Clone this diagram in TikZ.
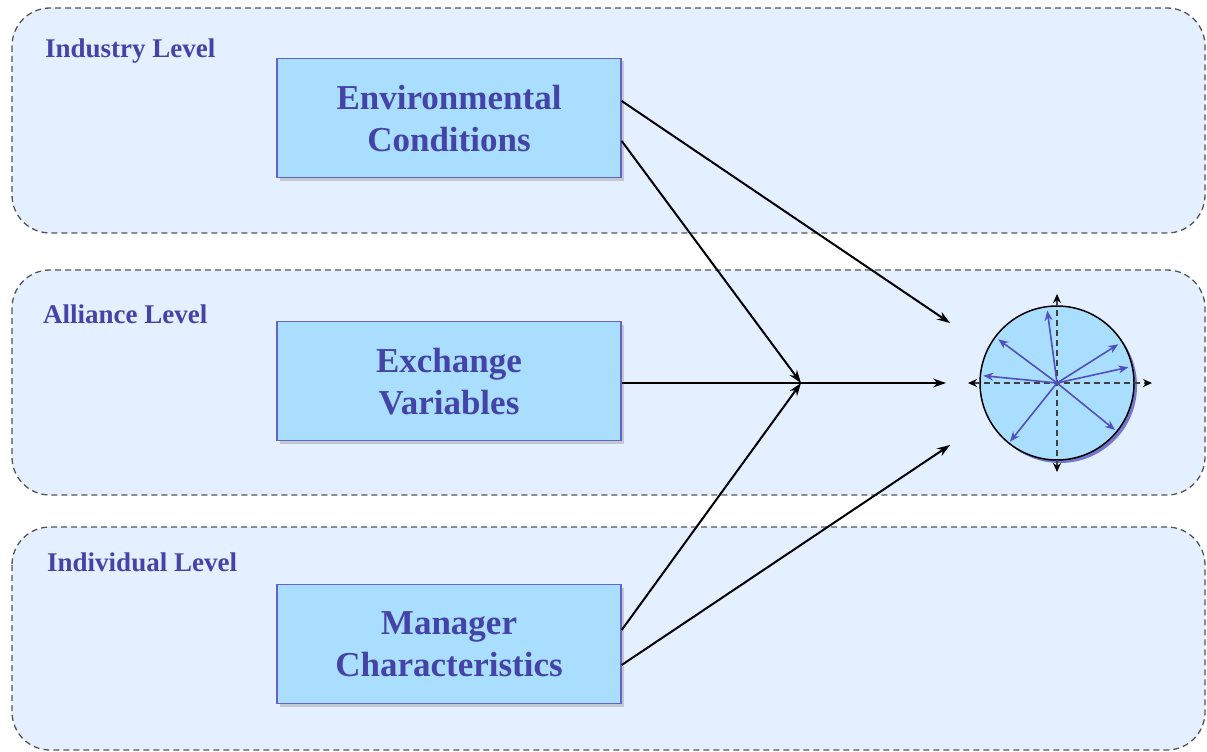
\documentclass[tikz,border=0pt]{standalone}
\usepackage{fontspec}
\setmainfont{Liberation Serif}
\usetikzlibrary{arrows.meta,shadows}
\definecolor{panelfill}{RGB}{228,240,255}
\definecolor{paneldraw}{RGB}{85,85,85}
\definecolor{boxfill}{RGB}{170,222,255}
\definecolor{boxdraw}{RGB}{100,100,200}
\definecolor{txt}{RGB}{68,68,168}
\definecolor{spoke}{RGB}{80,80,190}
\tikzset{
  panel/.style={draw=paneldraw, fill=panelfill, dashed, line width=1.3pt, rounded corners=38pt, dash pattern=on 6pt off 4pt},
  lvl/.style={anchor=west, text=txt, font=\bfseries\fontsize{27}{30}\selectfont, inner sep=0pt},
  factor/.style={draw=boxdraw, fill=boxfill, line width=1.4pt, minimum width=344pt, minimum height=119pt,
     text=txt, align=center, font=\bfseries\fontsize{35}{42}\selectfont, text depth=-6pt,
     drop shadow={shadow xshift=3pt, shadow yshift=-3pt, opacity=0.35}},
  conn/.style={line width=2pt, -{Stealth[length=13pt,width=9pt]}},
  spk/.style={draw=spoke, line width=1.6pt, -{Stealth[length=10pt,width=8pt]}},
  axis/.style={draw=black!75, line width=1.4pt, dashed, dash pattern=on 6pt off 4pt, {Stealth[length=9pt,width=8pt,black]}-{Stealth[length=9pt,width=8pt,black]}}
}
\begin{document}
\begin{tikzpicture}[x=1pt,y=-1pt]
\useasboundingbox (0,0) rectangle (1207,752);
% panels
\draw[panel] (12,8) rectangle (1205,233);
\draw[panel] (12,270) rectangle (1205,495);
\draw[panel] (12,527) rectangle (1205,750);
\node[lvl] (l1) at (45,51) {Industry Level};
\node[lvl] (l2) at (43,314) {Alliance Level};
\node[lvl] (l3) at (47,562) {Individual Level};
% boxes
\node[factor] (env) at (449,118) {Environmental\\Conditions};
\node[factor] (exc) at (449,381) {Exchange\\Variables};
\node[factor] (man) at (449,644) {Manager\\Characteristics};
% circle
\node[circle, draw=black, line width=1.5pt, fill=boxfill, minimum size=154pt, inner sep=0pt,
  drop shadow={shadow xshift=3pt, shadow yshift=-3pt, opacity=0.5, fill=blue!60!black}] (circ) at (1057,383) {};
\coordinate (axL) at (968,383);
\coordinate (axR) at (1152,383);
\coordinate (axT) at (1057,294);
\coordinate (axB) at (1057,472);
\draw[axis] (axL) -- (axR);
\draw[axis] (axT) -- (axB);
\coordinate (sa) at (1047.3,310.7);
\coordinate (sb) at (998.3,339.3);
\coordinate (sc) at (983.3,375.7);
\coordinate (sd) at (1118.3,344.3);
\coordinate (se) at (1128.3,367.3);
\coordinate (sf) at (1115,430);
\coordinate (sg) at (1010,441.7);
\draw[spk] (circ.center) -- (sa);
\draw[spk] (circ.center) -- (sb);
\draw[spk] (circ.center) -- (sc);
\draw[spk] (circ.center) -- (sd);
\draw[spk] (circ.center) -- (se);
\draw[spk] (circ.center) -- (sf);
\draw[spk] (circ.center) -- (sg);
% connectors
\coordinate (hub) at (801,383);
\coordinate (tTop) at (950,323);
\coordinate (tMid) at (946,383);
\coordinate (tBot) at (950,445);
\draw[conn] (env.east |- 0,101) -- (tTop);
\draw[conn] (env.east |- 0,141) -- (hub);
\draw[conn] (exc.east |- 0,383) -- (tMid);
\draw[conn] (man.east |- 0,630) -- (hub);
\draw[conn] (man.east |- 0,665) -- (tBot);
\end{tikzpicture}
\end{document}
